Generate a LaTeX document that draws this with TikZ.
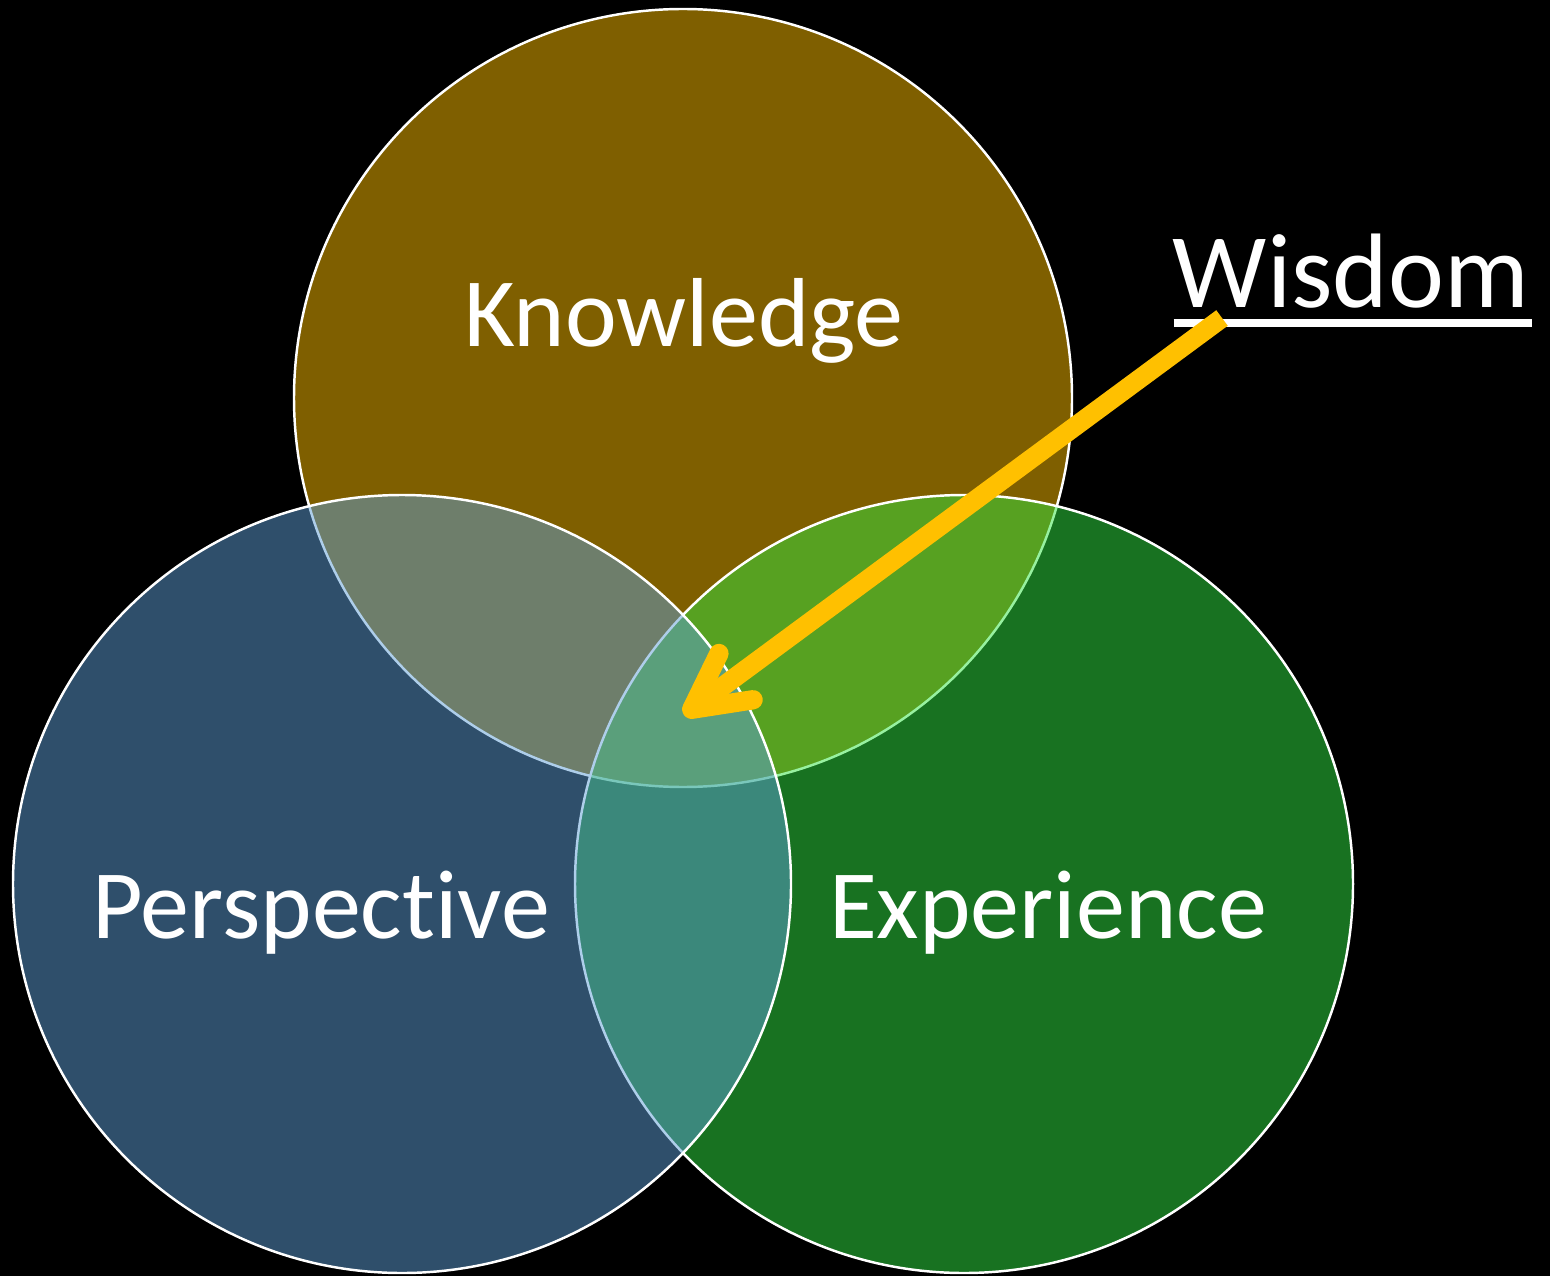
\documentclass[tikz,border=0pt]{standalone}
\usepackage{fontspec}
\setmainfont{Carlito}[Ligatures=CommonOff]
\usepackage{tikz}
\usetikzlibrary{arrows.meta, positioning, calc}
\definecolor{wisdomGold}{RGB}{255, 192, 0}
\definecolor{knowledgeGold}{RGB}{254, 190, 0}
\definecolor{experienceGreen}{RGB}{48, 228, 66}
\definecolor{perspectiveBlue}{RGB}{94, 158, 214}

\begin{document}
\begin{tikzpicture}[
        x=0.02cm, y=0.02cm,
        venn/.style={draw=white, line width=1.4pt, fill opacity=0.5},
        label/.style={text=white, anchor=base, inner sep=0pt, font=\fontsize{55.8}{60}\selectfont},
        arrow/.style={-{Straight Barb[round, length=1.1cm, width=1.15cm]}, line width=11pt, wisdomGold}
    ]
        % Background
        \fill[black] (0,0) rectangle (1550,1276);
        \useasboundingbox (0,0) rectangle (1550,1276);

        % Circles
        \draw[venn, fill=knowledgeGold] (683,878) circle[radius=389];
        \draw[venn, fill=experienceGreen] (964,392) circle[radius=389];
        \draw[venn, fill=perspectiveBlue] (402,392) circle[radius=389];

        % Labels
        \node[label] (knowledge) at (684,929) {Knowledge};
        \node[label] (perspective) at (321,338) {Perspective};
        \node[label] (experience) at (1048,338) {Experience};
        \node[label, font=\fontsize{60.3}{64}\selectfont] (wisdom) at (1351,968) {Wisdom};
        \draw[white, line width=4.5pt] ($(wisdom.base west)+(1,-15)$) -- ($(wisdom.base east)+(3,-15)$);

        % Arrow
        \coordinate (tail) at (1222,958);
        \coordinate (tip) at (684,561);
        \draw[arrow] (tail) -- (tip);
    \end{tikzpicture}
\end{document}
